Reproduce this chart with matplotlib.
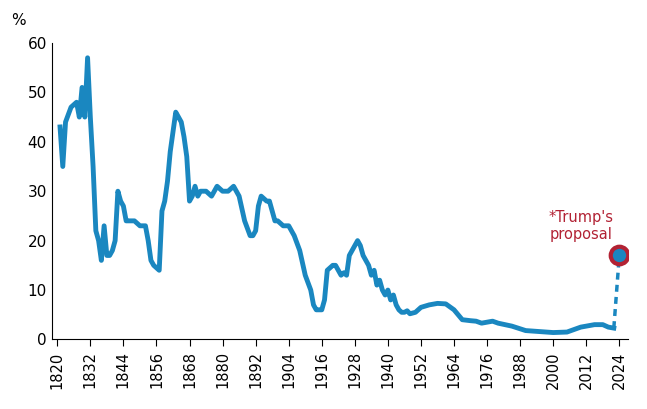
import matplotlib.pyplot as plt

# Average US tariff rate, % (rows of ten, years and rates line up row by row)
years = [1821, 1822, 1823, 1825, 1827, 1828, 1829, 1830, 1831, 1832,
         1833, 1834, 1835, 1836, 1837, 1838, 1839, 1840, 1841, 1842,
         1843, 1844, 1845, 1846, 1848, 1850, 1852, 1853, 1854, 1855,
         1857, 1858, 1859, 1860, 1861, 1862, 1863, 1864, 1865, 1866,
         1867, 1868, 1869, 1870, 1871, 1872, 1874, 1876, 1878, 1880,
         1882, 1884, 1886, 1888, 1890, 1891, 1892, 1893, 1894, 1896,
         1897, 1898, 1899, 1900, 1902, 1904, 1906, 1908, 1910, 1912,
         1913, 1914, 1915, 1916, 1917, 1918, 1920, 1921, 1922, 1923,
         1924, 1925, 1926, 1928, 1929, 1930, 1931, 1932, 1933, 1934,
         1935, 1936, 1937, 1938, 1939, 1940, 1941, 1942, 1943, 1944,
         1945, 1946, 1947, 1948, 1950, 1952, 1955, 1958, 1961, 1964,
         1967, 1970, 1972, 1974, 1976, 1978, 1980, 1985, 1990, 1995,
         2000, 2005, 2010, 2015, 2018, 2020, 2022, 2023, 2024]
rates = [43, 35, 44, 47, 48, 45, 51, 45, 57, 45,
         35, 22, 20, 16, 23, 17, 17, 18, 20, 30,
         28, 27, 24, 24, 24, 23, 23, 20, 16, 15,
         14, 26, 28, 32, 38, 42, 46, 45, 44, 41,
         37, 28, 29, 31, 29, 30, 30, 29, 31, 30,
         30, 31, 29, 24, 21, 21, 22, 27, 29, 28,
         28, 26, 24, 24, 23, 23, 21, 18, 13, 10,
         7, 6, 6, 6, 8, 14, 15, 15, 14, 13,
         13.5, 13, 17, 19, 20, 19, 17, 16, 15, 13,
         14, 11, 12, 10, 9, 10, 8, 9, 7, 6,
         5.5, 5.5, 5.8, 5.2, 5.5, 6.5, 7, 7.3, 7.2, 6,
         4, 3.8, 3.7, 3.3, 3.5, 3.7, 3.3, 2.7, 1.8, 1.6,
         1.4, 1.5, 2.5, 3, 3, 2.5, 2.3]
proposal_year = 2024
proposal_rate = 17
xticks = list(range(1820, 2025, 12))

n = min(len(years), len(rates))
years, rates = years[:n], rates[:n]

blue = '#1a87c0'
fig, ax = plt.subplots(figsize=(6.47, 4.09), dpi=100)
fig.subplots_adjust(left=0.08, right=0.97, top=0.895, bottom=0.17)
ax.plot(years, rates, color=blue, lw=3.5, solid_joinstyle='round')
ax.plot([years[-1], proposal_year], [rates[-1], proposal_rate], color=blue, lw=2.5, ls=(0, (2, 1.5)))
ax.scatter([proposal_year], [proposal_rate], s=160, color=blue, edgecolor='#b22234', linewidth=3, zorder=5)
ax.text(2010, 23, "*Trump's\nproposal", color='#b22234', fontsize=10.5, ha='center', va='center')

ax.set_xlim(1818, 2027)
ax.set_ylim(0, 60)
ax.set_xticks(xticks)
ax.set_xticklabels([str(x) for x in xticks], rotation=90, fontsize=10.5)
ax.set_yticks(range(0, 61, 10))
ax.tick_params(axis='y', length=0, labelsize=11)
ax.tick_params(axis='x', length=5)
for s in ['top', 'right']:
    ax.spines[s].set_visible(False)
ax.text(-0.07, 1.06, '%', transform=ax.transAxes, fontsize=11)
plt.savefig('out.png')
